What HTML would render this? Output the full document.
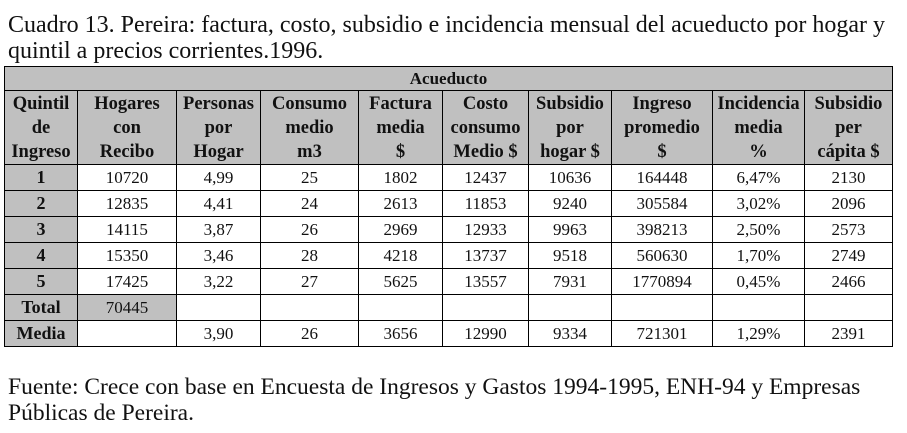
<!DOCTYPE html>
<html><head><meta charset="utf-8"><style>
body{margin:0;width:907px;height:433px;background:#fff;position:relative;overflow:hidden;font-family:"Liberation Serif",serif;color:#111}
.t{position:absolute;left:8px;font-size:24px;line-height:26px;white-space:nowrap}
table{position:absolute;left:4px;top:66px;border-collapse:collapse;table-layout:fixed}
td{border:1px solid #000;padding:0;text-align:center;font-size:17px;white-space:nowrap;overflow:hidden}
.g{background:#c0c0c0}
.h td{font-weight:bold;line-height:24px;height:73px;background:#c0c0c0;font-size:18.5px}
.d td{height:25px}
.b{font-weight:bold;font-size:18px}
</style></head><body>
<div class="t" style="top:12px">Cuadro 13. Pereira: factura, costo, subsidio e incidencia mensual del acueducto por hogar y</div>
<div class="t" style="top:38px">quintil a precios corrientes.1996.</div>
<table>
<colgroup><col style="width:73px"><col style="width:99px"><col style="width:84px"><col style="width:98px"><col style="width:84px"><col style="width:86px"><col style="width:83px"><col style="width:101px"><col style="width:92px"><col style="width:88px"></colgroup>
<tr><td colspan="10" class="g b" style="height:23px;font-size:17px">Acueducto</td></tr>
<tr class="h"><td>Quintil<br>de<br>Ingreso</td><td>Hogares<br>con<br>Recibo</td><td>Personas<br>por<br>Hogar</td><td>Consumo<br>medio<br>m3</td><td>Factura<br>media<br>$</td><td>Costo<br>consumo<br>Medio $</td><td>Subsidio<br>por<br>hogar $</td><td>Ingreso<br>promedio<br>$</td><td>Incidencia<br>media<br>%</td><td>Subsidio<br>per<br>cápita $</td></tr>
<tr class="d"><td class="g b">1</td><td>10720</td><td>4,99</td><td>25</td><td>1802</td><td>12437</td><td>10636</td><td>164448</td><td>6,47%</td><td>2130</td></tr>
<tr class="d"><td class="g b">2</td><td>12835</td><td>4,41</td><td>24</td><td>2613</td><td>11853</td><td>9240</td><td>305584</td><td>3,02%</td><td>2096</td></tr>
<tr class="d"><td class="g b">3</td><td>14115</td><td>3,87</td><td>26</td><td>2969</td><td>12933</td><td>9963</td><td>398213</td><td>2,50%</td><td>2573</td></tr>
<tr class="d"><td class="g b">4</td><td>15350</td><td>3,46</td><td>28</td><td>4218</td><td>13737</td><td>9518</td><td>560630</td><td>1,70%</td><td>2749</td></tr>
<tr class="d"><td class="g b">5</td><td>17425</td><td>3,22</td><td>27</td><td>5625</td><td>13557</td><td>7931</td><td>1770894</td><td>0,45%</td><td>2466</td></tr>
<tr class="d"><td class="g b">Total</td><td class="g">70445</td><td></td><td></td><td></td><td></td><td></td><td></td><td></td><td></td></tr>
<tr class="d"><td class="g b">Media</td><td></td><td>3,90</td><td>26</td><td>3656</td><td>12990</td><td>9334</td><td>721301</td><td>1,29%</td><td>2391</td></tr>
</table>
<div class="t" style="top:374px;font-size:23.5px">Fuente: Crece con base en Encuesta de Ingresos y Gastos 1994-1995, ENH-94 y Empresas</div>
<div class="t" style="top:400px;font-size:23.5px">Públicas de Pereira.</div>
</body></html>
